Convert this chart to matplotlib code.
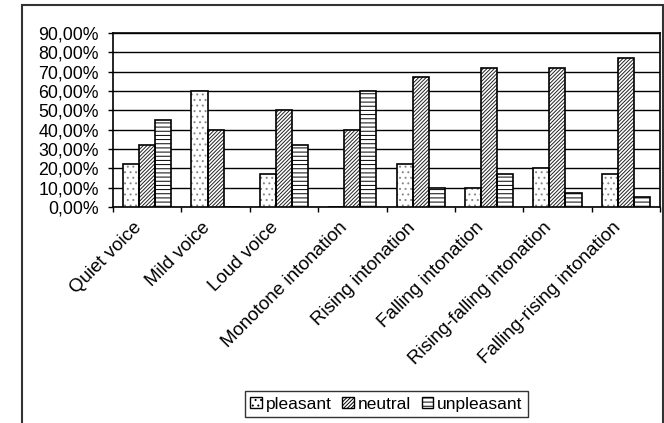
import matplotlib
matplotlib.use("Agg")
import matplotlib.pyplot as plt
import matplotlib.transforms as mtrans
import numpy as np
from matplotlib.patches import Rectangle, Patch

plt.rcParams['font.family'] = ['Liberation Sans', 'DejaVu Sans']
plt.rcParams['hatch.linewidth'] = 0.7

categories = ["Quiet voice", "Mild voice", "Loud voice", "Monotone intonation",
              "Rising intonation", "Falling intonation", "Rising-falling intonation",
              "Falling-rising intonation"]
pleasant = [22, 60, 17, 0, 22, 10, 20, 17]
neutral = [32, 40, 50, 40, 67, 72, 72, 77]
unpleasant = [45, 0, 32, 60, 10, 17, 7, 5]
series_names = ["pleasant", "neutral", "unpleasant"]
yticks = [0, 10, 20, 30, 40, 50, 60, 70, 80, 90]

W, H = 664, 423
fig = plt.figure(figsize=(W/100, H/100), dpi=100)
ax = fig.add_axes([113/W, 1-207/H, (660-113)/W, (207-33)/H])

x = np.arange(len(categories))
bw = 0.235
hatches = ['...', '/' * 9, '----']
hcolors = ['#888888', '#222222', 'black']
for i, (vals, h, hc) in enumerate(zip([pleasant, neutral, unpleasant], hatches, hcolors)):
    xs = x + (i-1)*bw
    ax.bar(xs, vals, bw, facecolor='white', edgecolor=hc, hatch=h,
           linewidth=0, zorder=3)
    ax.bar(xs, vals, bw, facecolor='none', edgecolor='black',
           linewidth=1.2, zorder=4, label=series_names[i])

ax.set_xlim(-0.5, len(categories)-0.5)
ax.set_ylim(0, 90)
ax.set_yticks(yticks)
ax.set_yticklabels([f"{v},00%" for v in yticks], fontsize=12.8)
ax.yaxis.grid(True, color='black', linewidth=1.0, zorder=0)
ax.set_axisbelow(True)
ax.tick_params(axis='y', length=3.6, width=1, pad=6.5)
ax.set_xticks(x)
ax.set_xticklabels(categories, rotation=45, ha='right', va='center',
                   rotation_mode='anchor', fontsize=13.5)
ax.tick_params(axis='x', which='major', length=0, pad=13)
offset = mtrans.ScaledTranslation(-8/100, 0, fig.dpi_scale_trans)
for lab in ax.get_xticklabels():
    lab.set_transform(lab.get_transform() + offset)
ax.set_xticks(np.arange(len(categories)+1)-0.5, minor=True)
ax.tick_params(axis='x', which='minor', length=3.6, width=1)
for s in ax.spines.values():
    s.set_linewidth(1.2)
    s.set_color('black')

handles = [Patch(facecolor='white', edgecolor='black', hatch=h, label=n)
           for h, n in zip(hatches, series_names)]
leg = fig.legend(handles=handles, loc='center', bbox_to_anchor=(386.5/W, 1-404/H),
                 ncol=3, frameon=True, fancybox=False, edgecolor='black',
                 fontsize=12.5, handlelength=0.65, handleheight=0.65,
                 handletextpad=0.25, columnspacing=0.6, borderpad=0.3)
leg.get_frame().set_linewidth(1.0)

fig.patches.append(Rectangle((22/W, -0.01), (663-22)/W, 1-5/H+0.01,
                             transform=fig.transFigure, fill=False,
                             edgecolor='#333333', linewidth=1.5))

fig.savefig("out.png", dpi=100)
